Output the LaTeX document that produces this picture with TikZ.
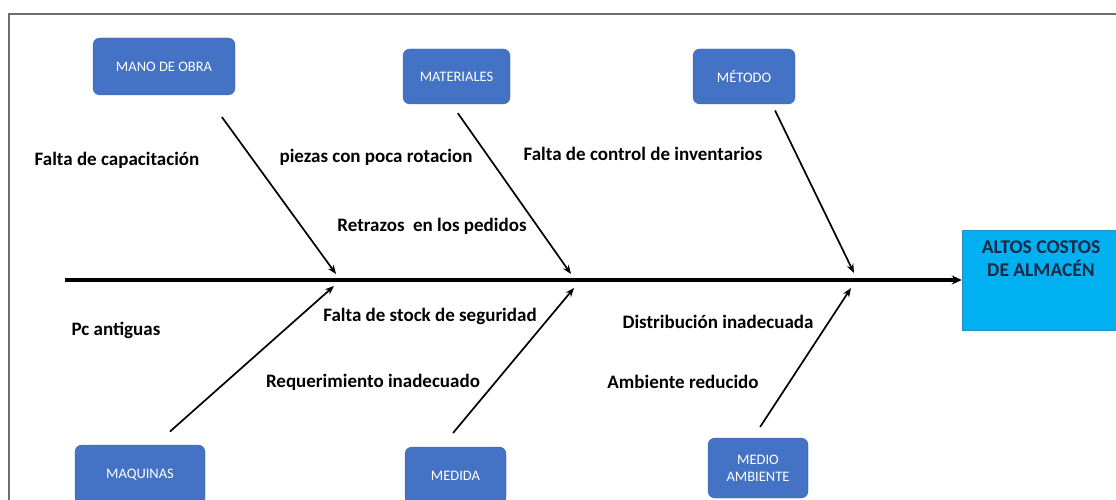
\documentclass[tikz,border=0pt]{standalone}
\usepackage{fontspec}
\setmainfont{Carlito}
\usetikzlibrary{arrows.meta}

\definecolor{causeblue}{HTML}{4472C4}
\definecolor{causeedge}{HTML}{3A63AE}
\definecolor{effcyan}{HTML}{00B0F0}
\definecolor{effedge}{HTML}{2390C8}
\definecolor{effnavy}{HTML}{1A2946}
\definecolor{framegray}{HTML}{6E6E6E}

\begin{document}
\begin{tikzpicture}[x=1pt, y=-1pt,
  cause/.style={draw=causeedge, fill=causeblue, rounded corners=7pt, text=white,
    font=\fontsize{14.5}{17}\selectfont, align=center, inner sep=0pt},
  bone/.style={line width=1.7pt, -{Stealth[length=9pt,width=7pt]}},
  txt/.style={font=\bfseries\fontsize{19}{22}\selectfont},
  efftxt/.style={text=effnavy, font=\bfseries\fontsize{19.5}{23}\selectfont, align=center}
]

\useasboundingbox (0,0) rectangle (1116,500);
\draw[framegray, line width=2.4pt] (9,505) -- (9,14) -- (1120,14);

% causes above the spine
\node[cause, minimum width=142pt, minimum height=57pt] (mob) at (164,66.5) {MANO DE OBRA};
\node[cause, minimum width=107pt, minimum height=55pt] (mat) at (456.5,76.5) {MATERIALES};
\node[cause, minimum width=102pt, minimum height=55pt] (met) at (744,76.5) {MÉTODO};

% causes below the spine
\node[cause, minimum width=130pt, minimum height=60pt] (maq) at (140,475) {MAQUINAS};
\node[cause, minimum width=101pt, minimum height=58pt] (med) at (455.5,476) {MEDIDA};
\node[cause, minimum width=100pt, minimum height=60pt] (amb) at (758,468) {MEDIO\\AMBIENTE};

% effect
\node[draw=effedge, fill=effcyan, minimum width=158pt, minimum height=100pt, inner sep=0pt,
  label={[efftxt, anchor=north, yshift=-7pt]north:{ALTOS COSTOS\\DE ALMACÉN}}] (eff) at (1041,280) {};

% spine
\coordinate (tail) at (65,280);
\draw[line width=3.4pt, -{Stealth[length=10pt,width=9pt]}] (tail) -- (eff.west);

\coordinate (h1) at (336,274);
\coordinate (h2) at (571,274);
\coordinate (h3) at (854,273);
\coordinate (h4) at (334,286);
\coordinate (h5) at (574,288);
\coordinate (h6) at (851,288);

\draw[bone, shorten <=27pt] ([xshift=42pt]mob.south) -- (h1);
\draw[bone, shorten <=11pt] ([xshift=-5pt]mat.south) -- (h2);
\draw[bone, shorten <=7pt] ([xshift=28pt]met.south) -- (h3);
\draw[bone, shorten <=20pt] ([xshift=15pt]maq.north) -- (h4);
\draw[bone, shorten <=18pt] ([xshift=-14pt]med.north) -- (h5);
\draw[bone, shorten <=13pt] ([xshift=-5pt]amb.north) -- (h6);

% sub-causes
\node[txt] (c1) at (117,160) {Falta de capacitación};
\node[txt] (c2) at (376,157) {piezas con poca rotacion};
\node[txt] (c3) at (643,154) {Falta de control de inventarios};
\node[txt] (c4) at (432,226) {Retrazos\ \ en los pedidos};
\node[txt] (c5) at (116,330) {Pc antiguas};
\node[txt] (c6) at (430,316) {Falta de stock de seguridad};
\node[txt] (c7) at (718,322) {Distribución inadecuada};
\node[txt] (c8) at (373,382) {Requerimiento inadecuado};
\node[txt] (c9) at (683,382) {Ambiente reducido};

\end{tikzpicture}
\end{document}
